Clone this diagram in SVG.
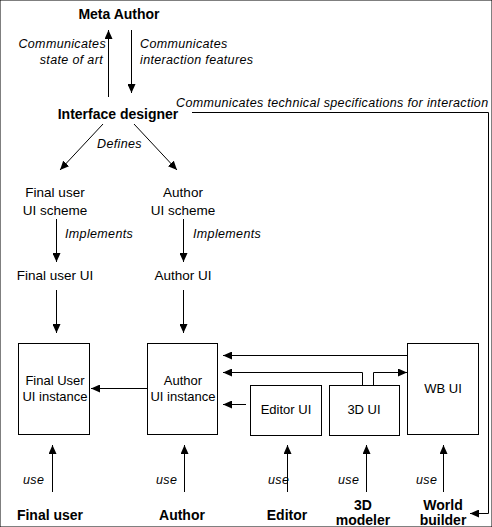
<svg xmlns="http://www.w3.org/2000/svg" width="492" height="527" viewBox="0 0 492 527">
<defs>
<marker id="ah" markerUnits="userSpaceOnUse" markerWidth="10" markerHeight="8" refX="9" refY="4" orient="auto">
<path d="M0,0 L9,4 L0,8 Z" fill="#000"/>
</marker>
<style>
text{font-family:"Liberation Sans",Arial,sans-serif;fill:#000}
.b{font-weight:bold;font-size:14px}
.r{font-size:13.5px}
.s{font-size:13px}
.i{font-style:italic;font-size:12.5px;letter-spacing:0.35px}
.m{text-anchor:middle}
.e{text-anchor:end}
rect{fill:#fff;stroke:#000;stroke-width:1}
.c line,.c polyline{stroke:#000;stroke-width:1;fill:none;marker-end:url(#ah)}
</style>
</defs>
<rect width="492" height="527" fill="#fff" stroke="none"/>
<g id="meta-author"><text class="b m" x="119" y="19">Meta Author</text></g>
<g id="interface-designer"><text class="b m" x="118" y="119">Interface designer</text></g>
<g id="final-user-ui-scheme"><text class="r m" x="55" y="197">Final user</text><text class="r m" x="55" y="215">UI scheme</text></g>
<g id="author-ui-scheme"><text class="r m" x="183" y="197">Author</text><text class="r m" x="183" y="215">UI scheme</text></g>
<g id="final-user-ui"><text class="r m" x="55" y="280">Final user UI</text></g>
<g id="author-ui"><text class="r m" x="183" y="280">Author UI</text></g>
<g id="final-user-instance"><rect x="18.5" y="343.5" width="71" height="91"/><text class="s m" x="55" y="385">Final User</text><text class="s m" x="55" y="401">UI instance</text></g>
<g id="author-instance"><rect x="147.5" y="343.5" width="70" height="91"/><text class="s m" x="183" y="385">Author</text><text class="s m" x="183" y="401">UI instance</text></g>
<g id="editor-ui"><rect x="250.5" y="385.5" width="71" height="50"/><text class="s m" x="286" y="414">Editor UI</text></g>
<g id="ui-3d"><rect x="329.5" y="385.5" width="70" height="50"/><text class="s m" x="364" y="414">3D UI</text></g>
<g id="wb-ui"><rect x="407.5" y="343.5" width="71" height="91"/><text class="s m" x="443" y="393">WB UI</text></g>
<g id="final-user"><text class="b m" x="50" y="520">Final user</text></g>
<g id="author"><text class="b m" x="182" y="520">Author</text></g>
<g id="editor"><text class="b m" x="287" y="520">Editor</text></g>
<g id="modeler-3d"><text class="b m" x="363" y="510">3D</text><text class="b m" x="363" y="525">modeler</text></g>
<g id="world-builder"><text class="b m" x="443" y="510">World</text><text class="b m" x="443" y="525">builder</text></g>
<g id="connectors" class="c">
<line x1="108.5" y1="97" x2="108.5" y2="30"/>
<line x1="131.5" y1="30" x2="131.5" y2="93"/>
<polyline points="192,112.5 488.5,112.5 488.5,513.5 470,513.5"/>
<line x1="103" y1="124" x2="60" y2="170"/>
<line x1="134" y1="124" x2="177" y2="170"/>
<line x1="56.5" y1="219" x2="56.5" y2="262"/>
<line x1="183.5" y1="219" x2="183.5" y2="262"/>
<line x1="56.5" y1="290" x2="56.5" y2="333"/>
<line x1="183.5" y1="290" x2="183.5" y2="333"/>
<line x1="147" y1="388.5" x2="91" y2="388.5"/>
<line x1="407" y1="355.5" x2="223" y2="355.5"/>
<polyline points="362.5,385 362.5,372.5 223,372.5"/>
<polyline points="373.5,385 373.5,372.5 407,372.5"/>
<line x1="246" y1="404.5" x2="223" y2="404.5"/>
<line x1="52.5" y1="492" x2="52.5" y2="445"/>
<line x1="184.5" y1="492" x2="184.5" y2="445"/>
<line x1="287.5" y1="492" x2="287.5" y2="445"/>
<line x1="366.5" y1="492" x2="366.5" y2="445"/>
<line x1="443.5" y1="492" x2="443.5" y2="445"/>
<text class="i e" x="106" y="48">Communicates</text>
<text class="i e" x="103" y="64">state of art</text>
<text class="i" x="140" y="48">Communicates</text>
<text class="i" x="140" y="64">interaction features</text>
<text class="i" x="176" y="107">Communicates technical specifications for interaction</text>
<text class="i" x="97" y="148">Defines</text>
<text class="i" x="65" y="238">Implements</text>
<text class="i" x="193" y="238">Implements</text>
<text class="i" x="23" y="484">use</text>
<text class="i" x="156" y="484">use</text>
<text class="i" x="268" y="484">use</text>
<text class="i" x="338" y="484">use</text>
<text class="i" x="416" y="484">use</text>
</g>
</svg>
